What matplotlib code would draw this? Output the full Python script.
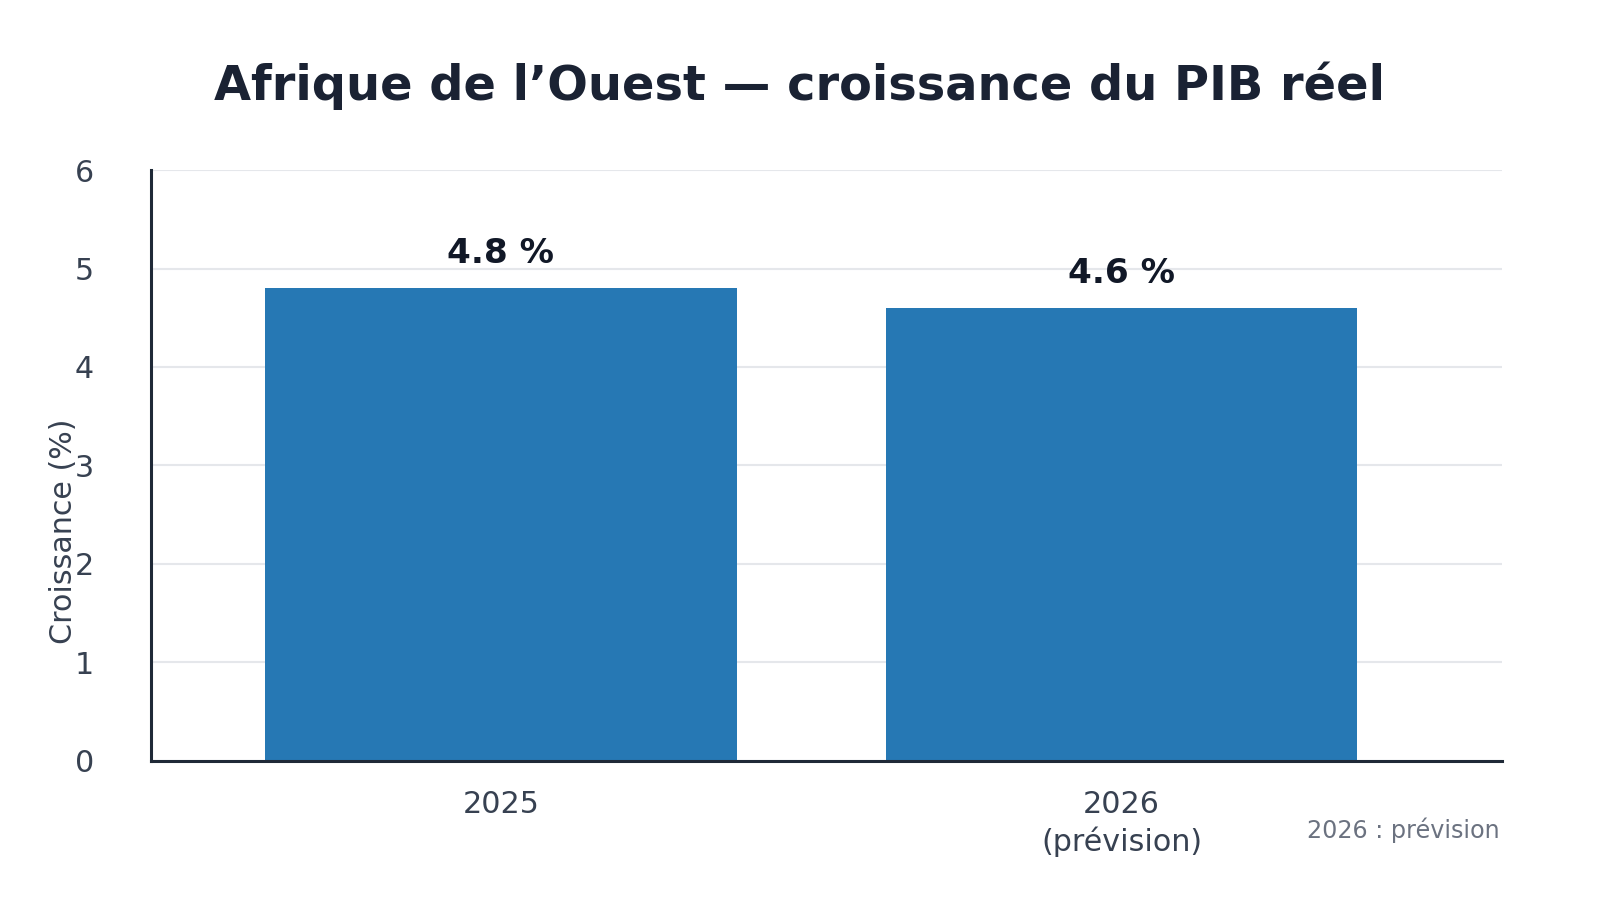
import matplotlib
matplotlib.use("Agg")
import matplotlib.pyplot as plt

categories = ["2025", "2026\n(prévision)"]
values = [4.8, 4.6]
value_labels = ["4.8 %", "4.6 %"]
yticks = [0, 1, 2, 3, 4, 5, 6]

title = "Afrique de l’Ouest — croissance du PIB réel"
ylabel = "Croissance (%)"
note = "2026 : prévision"

plt.rcParams["font.family"] = ["DejaVu Sans"]

fig = plt.figure(figsize=(16, 9), dpi=100)
ax = fig.add_axes([0.0944, 0.155, 0.8446, 0.656])

x = list(range(len(categories)))
ax.bar(x, values, width=0.76, color="#2678b4", zorder=2)
for xi, v, lab in zip(x, values, value_labels):
    ax.annotate(lab, (xi, v), xytext=(0, 25), textcoords="offset points",
                ha="center", va="center", fontsize=24.7, fontweight="bold",
                color="#111827")

ax.set_xlim(-0.564, 1.614)
ax.set_ylim(0, 6)
ax.set_yticks(yticks)
ax.set_xticks(x)
ax.set_xticklabels(categories, linespacing=1.3)
ax.tick_params(axis="both", length=0, labelsize=21.7, labelcolor="#374151")
ax.tick_params(axis="x", pad=21.5)
ax.tick_params(axis="y", pad=41)
ax.yaxis.grid(True, color="#e5e7eb", linewidth=1.5, zorder=0)
ax.set_axisbelow(True)
for s in ["top", "right"]:
    ax.spines[s].set_visible(False)
for s in ["left", "bottom"]:
    ax.spines[s].set_color("#1f2937")
    ax.spines[s].set_linewidth(2.2)
ax.spines["bottom"].set_zorder(3)

fig.text(0.0394, 0.41, ylabel, rotation=90, ha="center", va="center",
         fontsize=21.7, color="#374151")

fig.text(0.5, 0.905, title, ha="center", va="center", fontsize=34.5,
         fontweight="bold", color="#1a2233")
fig.text(0.937, 0.077, note, ha="right", va="center", fontsize=17.2,
         color="#6b7280")

fig.savefig("out.png", dpi=100)
